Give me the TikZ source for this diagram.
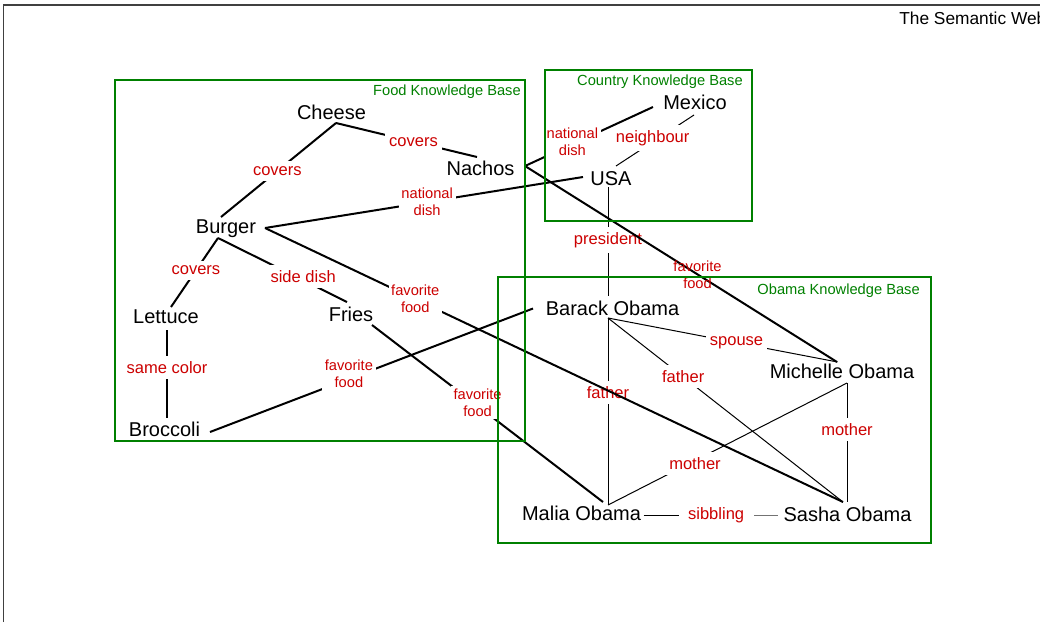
\documentclass[tikz,border=0pt]{standalone}
\usepackage{fontspec}
\setmainfont{Liberation Sans}
\definecolor{kbgreen}{RGB}{0,128,0}
\definecolor{lblred}{RGB}{204,0,0}
\begin{document}
\begin{tikzpicture}[x=0.75pt,y=-0.75pt,
  entity/.style={inner sep=0pt, font=\fontsize{15}{18}\selectfont, text height=10.7pt, text depth=0pt},
  rel/.style={text=lblred, font=\fontsize{12.4}{15}\selectfont, fill=white, inner xsep=3pt, inner ysep=4pt},
  reltwo/.style={text=lblred, font=\fontsize{11}{12.75}\selectfont, align=center, fill=white, inner sep=2pt},
  relbare/.style={reltwo, fill=none},
  thickedge/.style={line width=1.5pt},
  thinedge/.style={line width=0.75pt},
  kb/.style={draw=kbgreen, line width=1.5pt},
  kbtitle/.style={text=kbgreen, font=\fontsize{11}{13}\selectfont, inner sep=0pt, text height=7.9pt, text depth=0pt, anchor=east},
]
\useasboundingbox (0,0) rectangle (1040,622);

% page frame and heading
\draw[black!75, line width=0.9pt] (3.5,622) -- (3.5,5) -- (1040,5);
\node[anchor=west, inner sep=0pt, font=\fontsize{13}{15}\selectfont, text height=9.3pt, text depth=0pt] (heading) at (899,18.5) {The Semantic Web};

% entities
\node[entity] (cheese)   at (331.5,112.5) {Cheese};
\node[entity] (nachos)   at (480.5,168.5) {Nachos};
\node[entity] (burger)   at (226,226)     {Burger};
\node[entity] (lettuce)  at (166,316)     {Lettuce};
\node[entity] (fries)    at (351,314.5)   {Fries};
\node[entity] (broccoli) at (164.5,429)   {Broccoli};
\node[entity] (mexico)   at (695,102)     {Mexico};
\node[entity] (usa)      at (611,178.5)   {USA};
\node[entity] (barack)   at (612.5,308.5) {Barack Obama};
\node[entity] (michelle) at (842,371.5)   {Michelle Obama};
\node[entity] (malia)    at (581.5,513.5) {Malia Obama};
\node[entity] (sasha)    at (847.5,514.5) {Sasha Obama};

% thin relations
\draw[line width=1pt] ([shift={(1,14)}]lettuce.center) -- node[rel,pos=0.43] (lsame) {same color} ([shift={(2.5,-11)}]broccoli.center);
\draw[thinedge] ([shift={(5,-12.5)}]usa.center) -- node[rel,pos=0.47,yshift=3pt] (lneigh) {neighbour} ([shift={(-1,13)}]mexico.center);
\draw[thinedge] ([shift={(-3,8.5)}]usa.center) -- node[rel,pos=0.49] (lpres) {president} ([shift={(-4.5,-12.5)}]barack.center);
\draw[thinedge] ([shift={(-4.5,9.5)}]barack.center) -- node[rel,pos=0.40] (lfa1) {father} ([shift={(26.5,-8.5)}]malia.center);
\draw[thinedge] ([shift={(-4.5,9.5)}]barack.center) -- node[rel,pos=0.32] (lfa2) {father} ([shift={(-4.5,-12.5)}]sasha.center);
\draw[thinedge] ([shift={(-4.5,9.5)}]barack.center) -- node[rel,pos=0.56] (lspouse) {spouse} ([shift={(-4.5,-9.5)}]michelle.center);
\draw[thinedge] ([shift={(5,11.5)}]michelle.center) -- node[rel,pos=0.636,yshift=-2pt] (lmo1) {mother} ([shift={(26.5,-8.5)}]malia.center);
\draw[thinedge] ([shift={(5,11.5)}]michelle.center) -- node[rel,pos=0.39] (lmo2) {mother} ([shift={(-0.5,-12.5)}]sasha.center);
\draw[thinedge] ([shift={(62,1.5)}]malia.center) -- node[rel,pos=0.54,inner xsep=7pt] (lsib) {sibbling} ([shift={(-69.5,0.5)}]sasha.center);
\draw[thinedge, black!55] (lsib.east) -- ([shift={(-69.5,0.5)}]sasha.center);

% thick relations
\draw[thickedge] ([shift={(4.5,10.5)}]cheese.center) -- node[rel,pos=0.51] (lcov1) {covers} ([shift={(-5,-9)}]burger.center);
\draw[thickedge] ([shift={(4.5,10.5)}]cheese.center) -- node[rel,pos=0.55] (lcov2) {covers} ([shift={(-3.5,-11.5)}]nachos.center);
\draw[thickedge] ([shift={(-8,12)}]burger.center) -- node[rel,pos=0.47] (lcov3) {covers} ([shift={(5,-9)}]lettuce.center);
\draw[thickedge] ([shift={(-8,12)}]burger.center) -- node[rel,pos=0.66,yshift=3pt] (lside) {side dish} ([shift={(-4,-12.5)}]fries.center);
\draw[thickedge] ([shift={(39,2)}]burger.center) -- node[reltwo,pos=0.51] (lnat1) {national\\dish} ([shift={(-28,-1.5)}]usa.center);
\draw[thickedge] ([shift={(44.5,-2.5)}]nachos.center) -- node[reltwo,pos=0.37,yshift=2pt] (lnat2) {national\\dish} ([shift={(-42,5)}]mexico.center);
\draw[thickedge] ([shift={(45.5,3)}]broccoli.center) -- node[reltwo,pos=0.43,yshift=3.5pt] (lfav1) {favorite\\food} ([shift={(-79.5,0)}]barack.center);
\draw[thickedge] ([shift={(21,10.5)}]fries.center) -- node[reltwo,pos=0.457,yshift=2.5pt] (lfav2) {favorite\\food} ([shift={(21.5,-11.5)}]malia.center);
\draw[thickedge] ([shift={(39,2)}]burger.center) -- node[reltwo,pos=0.26] (lfav3) {favorite\\food} ([shift={(-4.5,-12.5)}]sasha.center);
\draw[thickedge] ([shift={(44.5,-2.5)}]nachos.center) -- node[relbare,pos=0.553] (lfav4) {favorite\\food} ([shift={(-5,-9.5)}]michelle.center);

% knowledge bases
\draw[kb] (115,80) rectangle (525,441);
\draw[kb] (545,70) rectangle (752,221);
\draw[kb] (498,277) rectangle (931,543);
\node[kbtitle] (foodkb)    at (521,90)   {Food Knowledge Base};
\node[kbtitle] (countrykb) at (743,80.5) {Country Knowledge Base};
\node[kbtitle] (obamakb)   at (920,289)  {Obama Knowledge Base};
\end{tikzpicture}
\end{document}
